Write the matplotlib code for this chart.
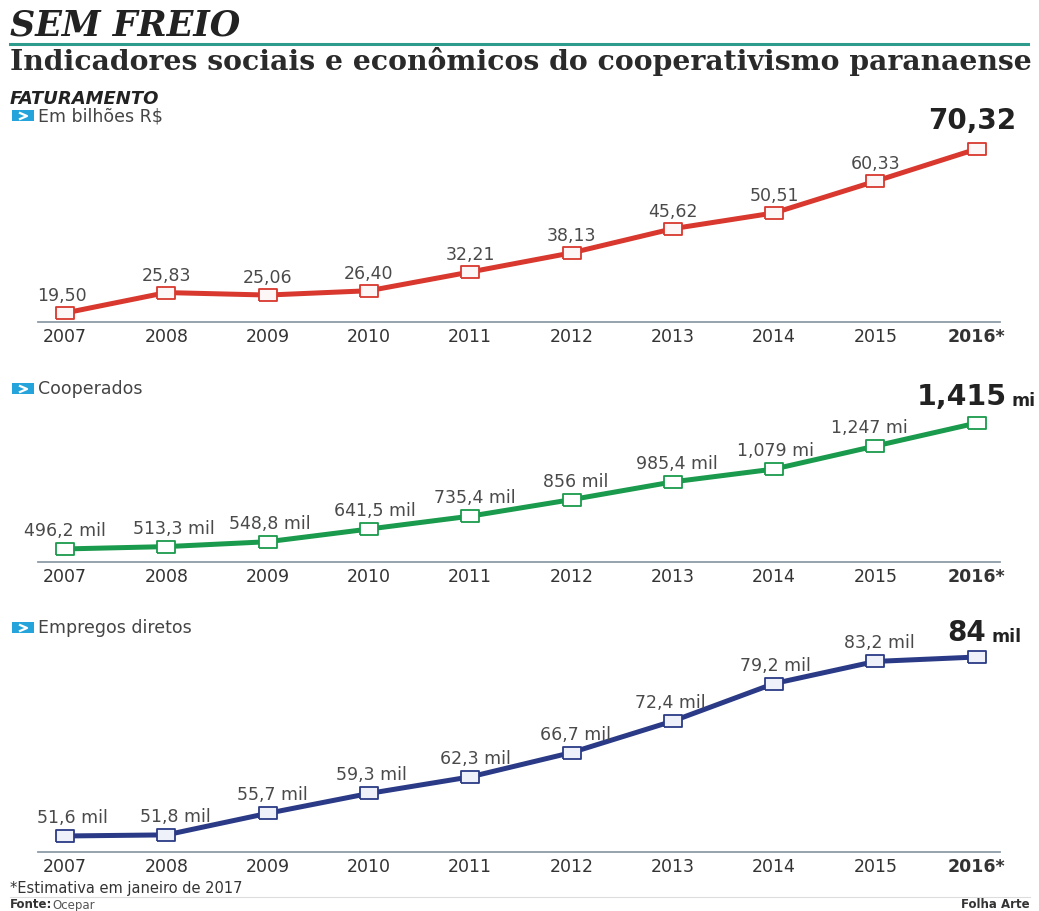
import matplotlib
matplotlib.use("Agg")
import matplotlib.pyplot as plt
from matplotlib.patches import Rectangle
from matplotlib.lines import Line2D

# ---------------- data ----------------
years = [2007, 2008, 2009, 2010, 2011, 2012, 2013, 2014, 2015, 2016]
year_labels = ["2007", "2008", "2009", "2010", "2011", "2012", "2013", "2014", "2015", "2016*"]

faturamento = [19.50, 25.83, 25.06, 26.40, 32.21, 38.13, 45.62, 50.51, 60.33, 70.32]
faturamento_labels = ["19,50", "25,83", "25,06", "26,40", "32,21", "38,13", "45,62", "50,51", "60,33"]
faturamento_last = "70,32"

cooperados = [496.2, 513.3, 548.8, 641.5, 735.4, 856.0, 985.4, 1079.0, 1247.0, 1415.0]  # mil
cooperados_labels = ["496,2 mil", "513,3 mil", "548,8 mil", "641,5 mil", "735,4 mil",
                     "856 mil", "985,4 mil", "1,079 mi", "1,247 mi"]
cooperados_last = ("1,415", "mi")

empregos = [51.6, 51.8, 55.7, 59.3, 62.3, 66.7, 72.4, 79.2, 83.2, 84.0]  # mil
empregos_labels = ["51,6 mil", "51,8 mil", "55,7 mil", "59,3 mil", "62,3 mil",
                   "66,7 mil", "72,4 mil", "79,2 mil", "83,2 mil"]
empregos_last = ("84", "mil")

# ---------------- figure ----------------
W, H = 1039, 911
fig = plt.figure(figsize=(W / 100, H / 100), dpi=100)
fig.patch.set_facecolor("white")


def fx(px):
    return px / W


def fy(py):
    return 1 - py / H


def fit_text(x, y, s, target_w, **kw):
    t = fig.text(x, y, s, **kw)
    r = fig.canvas.get_renderer()
    w = t.get_window_extent(r).width
    t.set_fontsize(t.get_fontsize() * target_w / w)
    return t


# header
fit_text(fx(10), fy(36), "SEM FREIO", 230, family="DejaVu Serif", fontsize=20,
         fontweight="bold", style="italic", color="#222222", va="baseline")
fig.add_artist(Line2D([fx(10), fx(1028)], [fy(44), fy(44)], color="#2e9c8c", lw=2.2))
fit_text(fx(10), fy(70), "Indicadores sociais e econômicos do cooperativismo paranaense", 1018,
         family="DejaVu Serif", fontsize=16, fontweight="bold", color="#2a2a2a", va="baseline")
fig.text(fx(10), fy(99), "FATURAMENTO", family="DejaVu Sans", fontsize=13,
         fontweight="bold", style="italic", color="#222222", va="center")


def icon(py, label):
    fig.add_artist(Rectangle((fx(12), fy(py + 5)), 22 / W, 11 / H, transform=fig.transFigure,
                             facecolor="#25a4dc", edgecolor="none"))
    fig.add_artist(Line2D([fx(20), fx(27), fx(20)], [fy(py - 3), fy(py), fy(py + 3)],
                          color="white", lw=1.6))
    fig.text(fx(38), fy(py), label, family="DejaVu Sans", fontsize=12.5,
             color="#444444", va="center")


icon(116, "Em bilhões R$")
icon(389, "Cooperados")
icon(628, "Empregos diretos")

# marker shape: wide rectangle
rect_marker = [(-1.5, -1), (1.5, -1), (1.5, 1), (-1.5, 1), (-1.5, -1)]


def panel(top_px, base_px, ylim, values, labels, color, face, lab_off, lab_dx):
    ax = fig.add_axes([fx(38), fy(base_px), (1000 - 38) / W, (base_px - top_px) / H])
    ax.set_xlim(2006.733, 2016.230)
    ax.set_ylim(*ylim)
    ax.plot(years, values, color=color, lw=3.6, solid_joinstyle="round", zorder=2, clip_on=False)
    ax.plot(years, values, linestyle="none", marker=rect_marker, markersize=13,
            markerfacecolor=face, markeredgecolor=color, markeredgewidth=1.3, zorder=3,
            clip_on=False)
    for yr, v, lab, dx in zip(years[:-1], values[:-1], labels, lab_dx):
        ax.annotate(lab, (yr, v), xytext=(dx, lab_off), textcoords="offset pixels",
                    ha="center", va="bottom", fontsize=12.5, color="#4a4a4a",
                    annotation_clip=False)
    for s in ("top", "left", "right"):
        ax.spines[s].set_visible(False)
    ax.spines["bottom"].set_color("#8d9ba6")
    ax.spines["bottom"].set_linewidth(1.3)
    ax.set_yticks([])
    ax.set_xticks(years)
    ax.set_xticklabels(year_labels, fontsize=12.5, color="#333333")
    ax.get_xticklabels()[-1].set_fontweight("bold")
    ax.tick_params(axis="x", length=0, pad=4.5)
    ax.patch.set_alpha(0)
    return ax


ax1 = panel(100, 322, (16.71, 85.5), faturamento, faturamento_labels, "#d8382e", "#fdf6f6",
            8, [-3, 0, 0, 0, 0, 0, 0, 0, 0])
ax1.annotate(faturamento_last, (years[-1], faturamento[-1]), xytext=(-5, 14),
             textcoords="offset pixels", ha="center", va="bottom", fontsize=20,
             fontweight="bold", color="#222222", annotation_clip=False)

ax2 = panel(380, 562, (401.0, 1728.5), cooperados, cooperados_labels, "#1a9a4c", "#ffffff",
            9, [0, 8, 2, 6, 5, 4, 4, 1, -6])
ax2.annotate(cooperados_last[0], (years[-1], cooperados[-1]), xytext=(-15, 12),
             textcoords="offset pixels", ha="center", va="bottom", fontsize=20.5,
             fontweight="bold", color="#222222", annotation_clip=False)
ax2.annotate(cooperados_last[1], (years[-1], cooperados[-1]), xytext=(35, 13),
             textcoords="offset pixels", ha="left", va="bottom", fontsize=12.5,
             fontweight="bold", color="#222222", annotation_clip=False)

ax3 = panel(620, 852, (48.70, 90.7), empregos, empregos_labels, "#2b3a86", "#eef0fa",
            9, [7, 9, 5, 3, 5, 4, -3, 1, 4])
ax3.annotate(empregos_last[0], (years[-1], empregos[-1]), xytext=(-10, 10),
             textcoords="offset pixels", ha="center", va="bottom", fontsize=20,
             fontweight="bold", color="#222222", annotation_clip=False)
ax3.annotate(empregos_last[1], (years[-1], empregos[-1]), xytext=(15, 11),
             textcoords="offset pixels", ha="left", va="bottom", fontsize=12.5,
             fontweight="bold", color="#222222", annotation_clip=False)

# footer
fig.text(fx(10), fy(888), "*Estimativa em janeiro de 2017", fontsize=10.5, color="#333333",
         va="center")
fig.add_artist(Line2D([fx(10), fx(1030)], [fy(897), fy(897)], color="#dddddd", lw=0.8))
fig.text(fx(10), fy(905), "Fonte:", fontsize=8.5, fontweight="bold", color="#333333",
         va="center")
fig.text(fx(52), fy(905), "Ocepar", fontsize=8.5, color="#555555", va="center")
fig.text(fx(1030), fy(905), "Folha Arte", fontsize=8.5, fontweight="bold", color="#333333",
         va="center", ha="right")

fig.savefig("out.png", dpi=100, facecolor="white")
